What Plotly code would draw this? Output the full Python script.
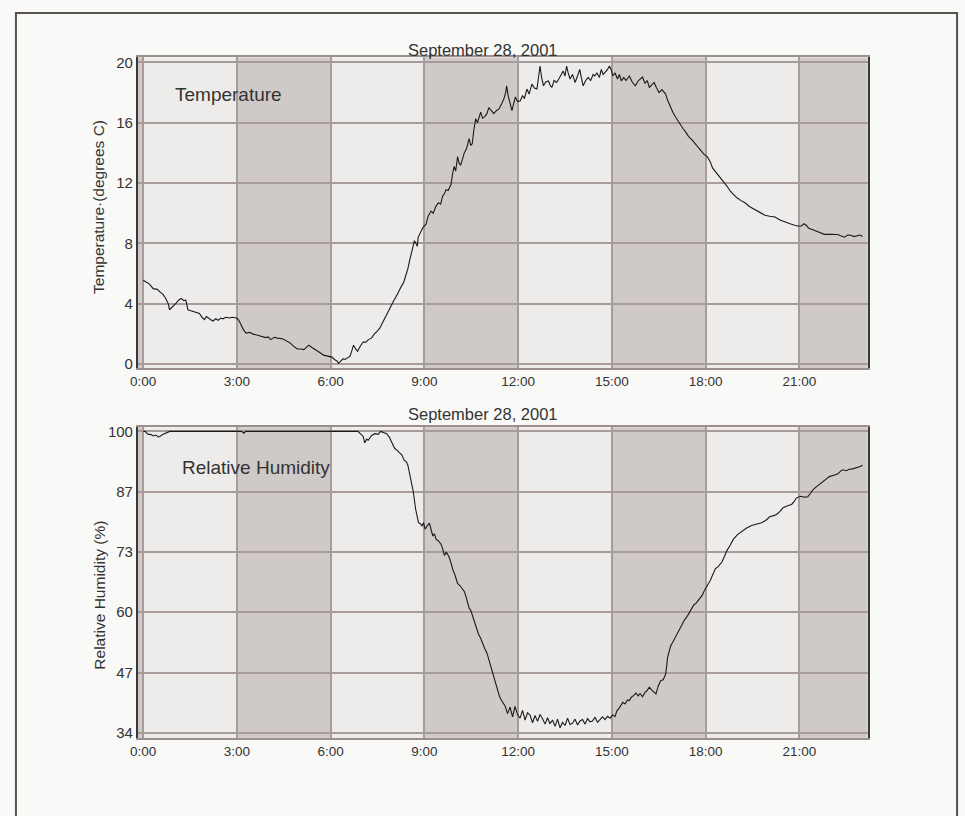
import plotly.graph_objects as go

# ---------------- data ----------------
temp_hours = [0.00,0.10,0.20,0.32,0.45,0.55,0.64,0.72,0.80,0.84,0.92,1.00,1.06,1.14,1.22,1.30,1.36,1.40,1.43,1.50,
              1.59,1.70,1.80,1.88,1.96,2.02,2.07,2.15,2.23,2.32,2.40,2.48,2.55,2.65,2.76,2.85,2.99,3.06,3.13,3.20,
              3.29,3.40,3.50,3.60,3.72,3.82,3.92,4.00,4.08,4.14,4.20,4.30,4.45,4.53,4.61,4.70,4.80,4.93,5.05,5.14,
              5.22,5.30,5.40,5.51,5.62,5.70,5.77,5.85,5.95,6.04,6.12,6.20,6.25,6.32,6.40,6.46,6.55,6.62,6.68,6.73,
              6.80,6.86,6.95,7.04,7.12,7.20,7.31,7.40,7.50,7.57,7.65,7.73,7.80,7.89,7.96,8.03,8.10,8.15,8.25,8.34,
              8.40,8.47,8.53,8.58,8.63,8.68,8.73,8.77,8.80,8.84,8.90,8.95,9.05,9.12,9.21,9.28,9.37,9.45,9.52,9.58,
              9.64,9.69,9.76,9.85,9.90,9.95,10.00,10.06,10.11,10.16,10.22,10.27,10.35,10.43,10.48,10.53,10.58,10.64,10.70,10.75,
              10.80,10.86,10.93,11.00,11.06,11.14,11.22,11.30,11.38,11.46,11.54,11.60,11.63,11.68,11.75,11.80,11.86,11.91,11.98,12.07,
              12.14,12.20,12.28,12.35,12.44,12.52,12.60,12.65,12.70,12.75,12.81,12.88,12.97,13.02,13.08,13.15,13.23,13.30,13.38,13.44,
              13.50,13.55,13.60,13.66,13.74,13.82,13.90,13.97,14.02,14.08,14.16,14.24,14.32,14.40,14.45,14.52,14.60,14.66,14.72,14.77,
              14.85,14.92,14.98,15.03,15.10,15.18,15.24,15.30,15.38,15.45,15.56,15.65,15.75,15.85,15.98,16.06,16.13,16.20,16.28,16.35,
              16.43,16.51,16.60,16.68,16.72,16.78,16.83,16.95,17.03,17.10,17.20,17.28,17.36,17.45,17.57,17.70,17.83,17.95,18.05,18.15,
              18.22,18.31,18.45,18.58,18.68,18.79,18.90,19.00,19.12,19.26,19.40,19.58,19.72,19.90,20.05,20.22,20.38,20.53,20.70,20.85,
              20.95,21.06,21.15,21.22,21.30,21.43,21.55,21.70,21.80,22.00,22.23,22.32,22.44,22.55,22.65,22.75,22.86,22.94,23.02]
temp_values = [5.55,5.4,5.3,5.0,4.95,4.75,4.6,4.35,4.0,3.6,3.75,3.95,4.05,4.25,4.35,4.2,4.25,3.9,3.6,3.55,
               3.5,3.45,3.35,3.1,2.95,3.15,3.05,2.95,2.85,3.0,2.9,3.05,3.0,3.1,3.05,3.1,3.05,2.9,2.6,2.3,
               2.05,2.1,2.0,1.95,1.9,1.85,1.75,1.8,1.62,1.7,1.77,1.72,1.68,1.6,1.5,1.4,1.2,1.0,1.0,0.96,
               1.1,1.25,1.1,0.96,0.85,0.7,0.59,0.55,0.5,0.46,0.3,0.2,0.05,0.2,0.35,0.3,0.45,0.52,0.9,1.25,
               1.0,0.85,1.2,1.46,1.45,1.6,1.73,2.0,2.2,2.38,2.7,3.04,3.35,3.7,3.95,4.24,4.5,4.74,5.1,5.44,
               5.8,6.32,6.9,7.3,7.8,8.18,8.0,7.8,8.4,8.6,8.8,9.05,9.27,9.8,10.14,10.0,10.47,10.7,10.6,11.13,
               11.3,11.56,11.5,11.9,12.6,13.1,12.8,13.75,13.3,13.2,13.6,13.97,14.3,14.95,14.5,14.6,15.5,16.26,16.0,16.4,
               16.7,16.3,16.4,16.6,17.0,16.8,16.6,16.8,16.9,17.2,17.57,18.0,18.44,17.8,17.1,16.8,17.3,17.7,17.4,17.46,
               17.8,17.6,18.23,17.9,18.56,18.3,18.23,18.9,19.76,19.0,18.45,18.7,18.77,18.5,18.34,18.8,18.67,18.9,19.2,19.43,
               19.1,19.76,19.3,18.9,19.2,18.67,19.1,19.54,19.0,18.45,18.8,19.0,18.8,19.2,19.1,19.3,19.0,19.54,19.2,19.32,
               19.5,19.76,19.5,19.1,19.3,18.9,19.2,18.77,19.0,18.8,19.1,18.7,18.45,18.8,19.03,18.6,18.8,18.34,18.5,18.67,
               18.3,18.0,18.2,17.95,17.9,17.5,17.25,16.7,16.4,16.15,15.8,15.6,15.39,15.1,14.84,14.5,14.18,13.9,13.75,13.4,
               13.0,12.77,12.4,12.11,11.8,11.46,11.2,11.02,10.85,10.69,10.45,10.25,10.05,9.86,9.8,9.75,9.55,9.42,9.3,9.2,
               9.15,9.16,9.3,9.2,9.0,8.9,8.8,8.66,8.6,8.6,8.59,8.5,8.41,8.55,8.54,8.45,8.5,8.55,8.46]

rh_hours = [0.00,0.06,0.15,0.25,0.32,0.40,0.48,0.53,0.62,0.70,0.75,0.85,1.00,3.15,3.22,3.28,6.87,6.95,7.04,7.09,
            7.15,7.20,7.31,7.41,7.52,7.60,7.68,7.79,7.87,7.94,8.05,8.12,8.21,8.28,8.35,8.42,8.47,8.52,8.56,8.64,
            8.72,8.77,8.81,8.87,8.92,8.97,9.02,9.08,9.16,9.22,9.27,9.32,9.37,9.45,9.53,9.58,9.64,9.70,9.79,9.85,
            9.90,9.98,10.06,10.14,10.21,10.28,10.33,10.38,10.43,10.48,10.53,10.60,10.67,10.73,10.80,10.87,10.93,11.00,11.06,11.12,
            11.20,11.28,11.33,11.40,11.46,11.52,
            11.58,11.66,11.74,11.82,11.90,11.98,12.06,12.14,12.22,12.30,12.38,12.46,12.54,12.62,12.70,12.78,12.86,12.94,13.02,13.10,
            13.18,13.26,13.34,13.42,13.50,13.58,13.66,13.74,13.82,13.90,13.98,14.06,14.14,14.22,14.30,14.38,14.46,14.54,14.62,14.70,
            14.78,14.86,14.94,15.02,
            15.10,15.16,15.22,15.28,15.35,15.42,15.50,15.56,15.62,15.70,15.77,15.84,15.90,15.98,16.05,
            16.12,16.20,16.27,16.34,16.41,16.48,16.56,16.64,16.72,16.75,16.78,16.83,16.88,16.96,17.04,17.12,17.18,17.25,17.33,17.41,
            17.47,17.55,17.62,17.68,17.78,17.89,17.94,18.02,18.10,18.15,18.22,18.31,18.40,18.52,18.60,18.68,18.78,18.89,19.02,19.16,
            19.30,19.47,19.62,19.79,19.92,20.05,20.15,20.27,20.38,20.48,20.62,20.75,20.83,20.90,21.00,21.06,21.16,21.27,21.35,21.43,
            21.55,21.70,21.82,21.96,22.10,22.23,22.32,22.39,22.50,22.60,22.70,22.86,22.95,23.02]
rh_values = [100,100,99.4,99.3,99.0,99.2,98.8,98.9,99.3,99.5,99.6,100,100,100,99.6,100,100,99.5,98.9,97.5,
             98.3,98.05,99.1,99.5,99.35,100,99.85,99.5,98.8,97.7,96.25,95.9,95.2,94.8,93.7,93.4,92.6,91.0,89.4,86.9,
             82.9,81.2,80.0,79.8,79.3,80.0,78.6,79.2,79.9,78.3,77.1,77.6,76.4,76.0,75.3,74.4,72.8,73.6,72.5,71.2,
             69.9,68.5,66.7,66.2,65.6,64.9,63.8,62.4,61.3,60.9,59.8,58.0,56.5,55.6,54.7,53.2,52.4,51.5,50.0,48.7,
             46.6,44.8,43.5,42.0,41.2,40.5,
             39.9,38.2,39.6,37.5,39.8,38.0,37.2,38.9,36.8,38.4,37.9,36.2,37.8,36.5,38.0,37.1,35.9,37.3,36.0,36.8,
             35.4,37.0,35.1,36.3,35.6,37.2,35.8,36.1,37.0,35.7,36.6,36.9,35.9,37.1,36.4,36.6,37.4,36.3,37.0,37.5,
             36.9,37.6,37.2,37.9,
             37.6,38.8,39.3,40.0,40.7,40.3,41.2,41.07,41.8,42.2,42.7,42.1,42.6,41.9,42.8,
             43.2,44.0,43.4,43.0,42.5,44.2,45.4,45.6,46.8,48.5,50.4,51.8,53.0,54.0,55.1,56.2,57.0,58.0,58.8,59.5,
             60.2,60.9,62.0,62.3,63.2,64.1,64.9,65.8,67.0,67.4,68.5,69.9,70.4,71.4,72.6,73.9,75.0,76.4,77.4,78.2,
             78.8,79.4,79.7,80.0,80.5,81.3,81.5,81.8,82.5,83.3,83.7,84.0,84.6,85.4,85.7,85.8,85.6,85.7,86.4,87.2,
             87.9,88.7,89.3,90.1,90.4,90.7,91.3,91.6,91.4,91.7,91.8,92.1,92.3,92.6]

x_tickvals = [0, 3, 6, 9, 12, 15, 18, 21]
x_ticktext = ["0:00", "3:00", "6:00", "9:00", "12:00", "15:00", "18:00", "21:00"]
temp_tickvals = [0, 4, 8, 12, 16, 20]
temp_ticktext = ["0", "4", "8", "12", "16", "20"]
rh_tickvals = [34, 47.2, 60.4, 73.6, 86.8, 100]
rh_ticktext = ["34", "47", "60", "73", "87", "100"]
dark_band_starts = [-0.17, 3, 9, 15, 21]
dark_band_ends = [0, 6, 12, 18, 23.19]

title_text = "September 28, 2001"

# ---------------- figure ----------------
W, H = 965, 816
def px(x):
    return x / W
def py(y):
    return 1 - y / H

FONT = "Liberation Sans, Arial, sans-serif"
TXT = "#333333"
GRID = "#a89b9b"
LIGHT = "#edecea"
DARK = "#cfcac8"

fig = go.Figure()
fig.add_trace(go.Scatter(x=temp_hours, y=temp_values, mode="lines",
                         line=dict(color="#1a1a1a", width=1.1), xaxis="x", yaxis="y",
                         showlegend=False, hoverinfo="skip"))
fig.add_trace(go.Scatter(x=rh_hours, y=rh_values, mode="lines",
                         line=dict(color="#1a1a1a", width=1.1), xaxis="x2", yaxis="y2",
                         showlegend=False, hoverinfo="skip"))

shapes = []
for xr, yr in (("x", "y domain"), ("x2", "y2 domain")):
    for s, e in zip(dark_band_starts, dark_band_ends):
        shapes.append(dict(type="rect", xref=xr, yref=yr, x0=s, x1=e, y0=0, y1=1,
                           fillcolor=DARK, line=dict(width=0), layer="below"))
# outer frame
shapes.append(dict(type="rect", xref="paper", yref="paper", x0=px(8), x1=px(957),
                   y0=py(830), y1=py(8), line=dict(color="#5a5151", width=2),
                   fillcolor="rgba(0,0,0,0)", layer="below"))

xaxis_common = dict(range=[-0.17, 23.19], tickvals=x_tickvals, ticktext=x_ticktext,
                    showgrid=True, gridcolor=GRID, gridwidth=1.5, zeroline=False,
                    showline=True, linecolor="#9a8e8e", linewidth=1.5, mirror=True,
                    ticks="", tickfont=dict(family=FONT, size=13.5, color=TXT), fixedrange=True)
yaxis_common = dict(showgrid=True, gridcolor=GRID, gridwidth=1.5, zeroline=False,
                    showline=True, linecolor="#3a3a3a", linewidth=2, mirror=True,
                    ticks="", tickfont=dict(family=FONT, size=15, color=TXT), fixedrange=True)

fig.update_layout(
    width=W, height=H,
    margin=dict(l=0, r=0, t=0, b=0),
    paper_bgcolor="#f9f9f7",
    plot_bgcolor=LIGHT,
    xaxis=dict(domain=[px(131), px(867)], anchor="y", **xaxis_common),
    yaxis=dict(domain=[py(367), py(53)], anchor="x", range=[-0.26, 20.33],
               tickvals=temp_tickvals, ticktext=temp_ticktext, **yaxis_common),
    xaxis2=dict(domain=[px(131), px(867)], anchor="y2", **xaxis_common),
    yaxis2=dict(domain=[py(741), py(427)], anchor="x2", range=[32.9, 100.9],
                tickvals=rh_tickvals, ticktext=rh_ticktext, **yaxis_common),
    shapes=shapes,
    showlegend=False,
    font=dict(family=FONT, color=TXT),
)

ann = [
    dict(text=title_text, x=px(479), y=py(45), size=16.5, angle=0),
    dict(text=title_text, x=px(479), y=py(414), size=16.5, angle=0),
    dict(text="Temperature", x=px(222), y=py(91), size=19, angle=0),
    dict(text="Relative Humidity", x=px(250), y=py(468), size=19, angle=0),
    dict(text="Temperature·(degrees C)", x=px(92), y=py(204), size=15.5, angle=-90),
    dict(text="Relative Humidity (%)", x=px(92), y=py(597), size=15.5, angle=-90),
]
for a in ann:
    fig.add_annotation(text=a["text"], x=a["x"], y=a["y"], xref="paper", yref="paper",
                       xanchor="center", yanchor="middle", showarrow=False,
                       textangle=a["angle"], font=dict(family=FONT, size=a["size"], color=TXT))

fig.write_html("out.html", include_plotlyjs=True, config={"displayModeBar": False})

# remove the browser's default body margin so the figure fills the window exactly
with open("out.html", "r", encoding="utf-8") as f:
    html = f.read()
html = html.replace("<body>", "<body style=\"margin:0;padding:0;overflow:hidden;background:#f9f9f7\">", 1)
with open("out.html", "w", encoding="utf-8") as f:
    f.write(html)
